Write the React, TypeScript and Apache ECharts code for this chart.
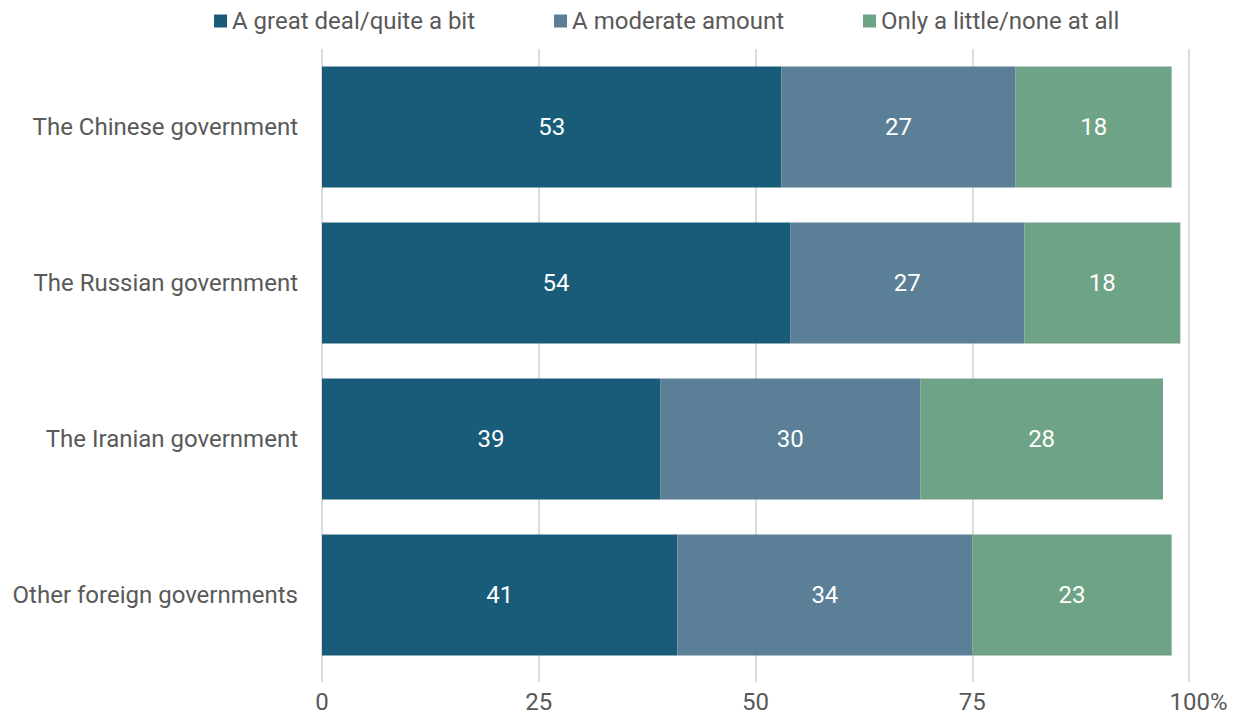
import React, { useEffect, useRef } from "react";
import * as echarts from "echarts";

const categories = [
  "The Chinese government",
  "The Russian government",
  "The Iranian government",
  "Other foreign governments",
];
const greatDeal = [53, 54, 39, 41];
const moderate = [27, 27, 30, 34];
const littleNone = [18, 18, 28, 23];
const seriesNames = [
  "A great deal/quite a bit",
  "A moderate amount",
  "Only a little/none at all",
];
const colors = ["#185c7a", "#5b7f96", "#6fa387"];

export default function App() {
  const ref = useRef<HTMLDivElement>(null);

  useEffect(() => {
    if (!ref.current) return;
    const chart = echarts.init(ref.current, undefined, { renderer: "svg" });
    const font = "Roboto, 'Noto Sans', sans-serif";
    const textColor = "#595959";
    const mk = (name: string, data: number[], color: string) => ({
      name,
      type: "bar",
      stack: "total",
      data,
      barCategoryGap: "22.4%",
      itemStyle: { color },
      label: {
        show: true,
        position: "inside",
        color: "#ffffff",
        fontSize: 24,
        fontFamily: font,
      },
    });
    chart.setOption({
      animation: false,
      color: colors,
      textStyle: { fontFamily: font },
      legend: {
        top: 4,
        left: 209,
        itemWidth: 13,
        itemHeight: 13,
        itemGap: 79,
        icon: "rect",
        textStyle: { fontSize: 24, color: textColor, fontFamily: font },
        data: seriesNames,
      },
      grid: { left: 322, right: 48, top: 49, bottom: 42, containLabel: false },
      xAxis: {
        type: "value",
        min: 0,
        max: 100,
        interval: 25,
        axisLine: { show: false },
        axisTick: { show: true, length: 9, lineStyle: { color: "#dcdcdc", width: 2 } },
        splitLine: { show: true, lineStyle: { color: "#dcdcdc", width: 2 } },
        axisLabel: {
          fontSize: 24,
          color: textColor,
          margin: 17,
          fontFamily: font,
          formatter: (v: number) => (v === 100 ? "{r|100%}" : String(v)),
          rich: {
            r: { fontSize: 24, color: textColor, padding: [0, 0, 0, 19], fontFamily: font },
          },
        },
      },
      yAxis: {
        type: "category",
        inverse: true,
        data: categories,
        axisLine: { show: false },
        axisTick: { show: false },
        axisLabel: { fontSize: 24, color: textColor, margin: 24, fontFamily: font },
      },
      series: [
        mk(seriesNames[0], greatDeal, colors[0]),
        mk(seriesNames[1], moderate, colors[1]),
        mk(seriesNames[2], littleNone, colors[2]),
      ],
    });
    return () => chart.dispose();
  }, []);

  return (
    <div
      ref={ref}
      style={{ position: "absolute", left: 0, top: 0, width: 1237, height: 715 }}
    />
  );
}
